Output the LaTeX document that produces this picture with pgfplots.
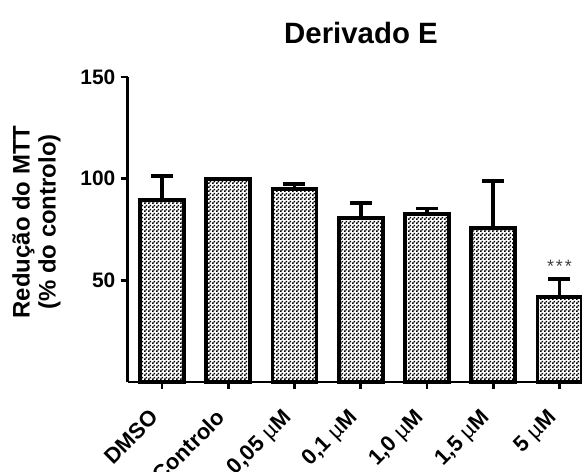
\documentclass[border=0pt]{standalone}
\usepackage{fontspec}
\setmainfont{Liberation Sans}
\usepackage{pgfplots}
\pgfplotsset{compat=1.18}
\usetikzlibrary{patterns}
\pgfdeclarepatternformonly{checker}{\pgfpointorigin}{\pgfqpoint{4bp}{4bp}}{\pgfqpoint{4bp}{4bp}}{%
  \pgfpathrectangle{\pgfpointorigin}{\pgfqpoint{2bp}{2bp}}%
  \pgfpathrectangle{\pgfqpoint{2bp}{2bp}}{\pgfqpoint{2bp}{2bp}}%
  \pgfusepath{fill}}
\newcommand{\mum}{{\mdseries µ}M}
\begin{document}
\begin{tikzpicture}
\useasboundingbox (0,0) rectangle (582bp,472bp);
\begin{axis}[
  at={(127.5bp,90bp)}, anchor=south west,
  scale only axis, width=454.5bp, height=305bp,
  xmin=-0.52, xmax=6.34, ymin=0, ymax=150,
  axis x line*=bottom, axis y line*=left,
  axis line style={line width=2.8bp},
  xtick={0,1,2,3,4,5,6},
  xticklabels={DMSO,Controlo,{0,05 \mum},{0,1 \mum},{1,0 \mum},{1,5 \mum},{5 \mum}},
  ytick={50,100,150},
  tick align=outside, major tick length=7bp,
  tick style={line width=2.8bp, black},
  /pgf/number format/assume math mode=true,
  ticklabel style={font=\fontsize{21}{23}\selectfont\bfseries},
  xticklabel style={font=\fontsize{22}{24}\selectfont\bfseries, rotate=45, anchor=north east, inner sep=1bp, xshift=-21.5bp, yshift=-3bp},
  yticklabel style={inner sep=5bp},
  clip=false,
]
\addplot[ybar, bar width=44bp, draw=black, line width=3.8bp, pattern=checker, pattern color=black,
  error bars/.cd, y dir=plus, y explicit,
  error bar style={line width=3.8bp, black},
  error mark options={rotate=90, mark size=11bp, line width=3.8bp, black}]
  coordinates {
  (0,89.5) +- (0,12.0)
  (1,100.0) +- (0,0)
  (2,95.0) +- (0,2.2)
  (3,80.7) +- (0,7.3)
  (4,82.7) +- (0,2.6)
  (5,75.8) +- (0,23.2)
  (6,41.8) +- (0,8.8)
  };
\node[font=\fontsize{18}{18}\selectfont, text=black!75, anchor=base] at (axis cs:6,54) {*\kern2bp*\kern2bp*};
\end{axis}
\node[font=\fontsize{29.5}{31}\selectfont\bfseries, anchor=base] at (361bp,428bp) {Derivado E};
\node[rotate=90, align=center, font=\fontsize{24}{26}\selectfont\bfseries] at (36.5bp,250bp) {Redução do MTT\\(\% do controlo)};
\end{tikzpicture}
\end{document}
